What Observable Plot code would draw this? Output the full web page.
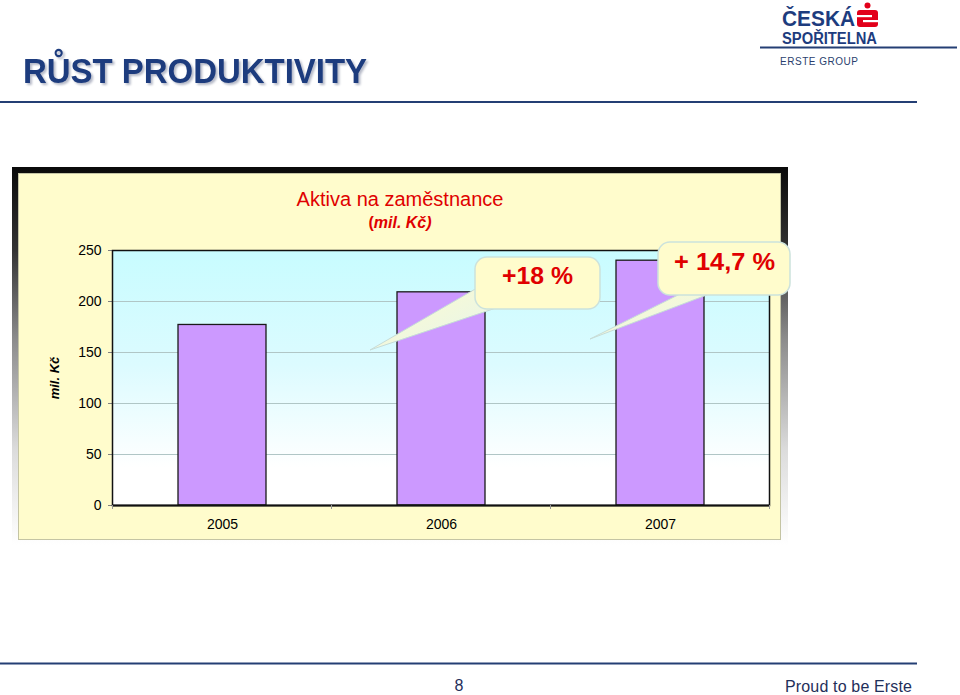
<!DOCTYPE html>
<html><head><meta charset="utf-8">
<script src="https://cdn.jsdelivr.net/npm/d3@7"></script>
<script src="https://cdn.jsdelivr.net/npm/@observablehq/plot@0.6"></script>
<style>
body{margin:0;background:#fff;}
#chart svg{display:block}
#chart g[aria-label="y-axis tick"] path{stroke:#808080}
#chart g[aria-label="y-axis label"] text{font-weight:bold;font-style:italic;font-size:13px}
</style></head><body><div id="chart"></div>
<script>
const years = ["2005", "2006", "2007"];
const values = [177, 209, 240];
const yTicks = [0, 50, 100, 150, 200, 250];
const growthLabels = ["+18 %", "+ 14,7 %"];
const pageTitle = "RŮST PRODUKTIVITY";
const chartTitle = "Aktiva na zaměstnance";
const yLabel = "mil. Kč";
const footerPage = "8";
const footerText = "Proud to be Erste";

const data = years.map((year, i) => ({year, value: values[i]}));
const FONT = "'Liberation Sans', Arial, Helvetica, sans-serif";
const NAVY = "#1d3c7e";
const RED = "#e00000";

const plot = Plot.plot({
  width: 960, height: 695,
  marginLeft: 112, marginRight: 191, marginTop: 250, marginBottom: 190,
  style: {background: "transparent", fontFamily: FONT, fontSize: "14px", color: "#000", overflow: "visible"},
  x: {domain: years, paddingInner: 0.6, paddingOuter: 0.3, label: null, tickSize: 0, tickPadding: 14},
  y: {domain: [0, 250], ticks: yTicks, tickSize: 4, tickPadding: 7, label: yLabel, labelAnchor: "center", labelOffset: 63, labelArrow: "none"},
  marks: [
    Plot.frame({fill: "url(#plotBg)"}),
    Plot.ruleY(yTicks.filter(v => v > 0 && v < 250), {stroke: "#b0c6c6", strokeWidth: 1}),
    Plot.barY(data, {x: "year", y: "value", fill: "#cc99ff", stroke: "#1a1a1a", strokeWidth: 1.3}),
    Plot.frame({stroke: "#111", strokeWidth: 1.5}),
    Plot.ruleY([0], {stroke: "#111", strokeWidth: 2})
  ]
});

const svg = d3.select(plot);
const back = svg.insert("g", ":first-child");
const defs = svg.insert("defs", ":first-child");
const g1 = defs.append("linearGradient").attr("id", "plotBg").attr("x1", 0).attr("y1", 0).attr("x2", 0).attr("y2", 1);
g1.append("stop").attr("offset", "0").attr("stop-color", "#c8fcff");
g1.append("stop").attr("offset", "0.45").attr("stop-color", "#dcfbff");
g1.append("stop").attr("offset", "0.85").attr("stop-color", "#ffffff");
g1.append("stop").attr("offset", "1").attr("stop-color", "#ffffff");
const g2 = defs.append("linearGradient").attr("id", "shadowGrad").attr("x1", 0).attr("y1", 0).attr("x2", 0).attr("y2", 1);
[[0, "#0a0a0a"], [0.22, "#333"], [0.45, "#8a8a8a"], [0.75, "#dcdcdc"], [1, "#fff"]].forEach(([o, c]) => g2.append("stop").attr("offset", o).attr("stop-color", c));
const g3 = defs.append("linearGradient").attr("id", "tailGrad").attr("x1", 0).attr("y1", 0).attr("x2", 1).attr("y2", 1);
g3.append("stop").attr("offset", "0").attr("stop-color", "#fffccc");
g3.append("stop").attr("offset", "1").attr("stop-color", "#e4f4ee");

back.append("rect").attr("x", 12).attr("y", 167).attr("width", 776).attr("height", 378).attr("fill", "url(#shadowGrad)");
back.append("rect").attr("x", 18.5).attr("y", 173.5).attr("width", 762).attr("height", 366).attr("fill", "#fffccc").attr("stroke", "#c4c4a4");

const xs = plot.scale("x");
const gap = (xs.step - xs.bandwidth) / 2;
const bounds = years.map(d => xs.apply(d) - gap);
bounds.push(xs.apply(years[years.length - 1]) + xs.bandwidth + gap);
const ys = plot.scale("y");
const over = svg.append("g").attr("text-anchor", "start");
bounds.forEach(b => over.append("line").attr("x1", b).attr("x2", b).attr("y1", ys.apply(0)).attr("y2", ys.apply(0) + 4).attr("stroke", "#999"));

over.append("text").attr("text-anchor", "start").attr("x", 23).attr("y", 83).attr("font-family", FONT).attr("font-weight", "bold").attr("font-size", 35)
  .attr("textLength", 344).attr("lengthAdjust", "spacingAndGlyphs").attr("fill", NAVY)
  .style("filter", "drop-shadow(2px 2px 1px rgba(90,100,130,0.45))").text(pageTitle);
over.append("line").attr("x1", 0).attr("x2", 917).attr("y1", 102).attr("y2", 102).attr("stroke", "#243f74").attr("stroke-width", 2);

over.append("text").attr("text-anchor", "start").attr("x", 782).attr("y", 26).attr("font-family", FONT).attr("font-weight", "bold").attr("font-size", 22)
  .attr("textLength", 73).attr("lengthAdjust", "spacingAndGlyphs").attr("fill", NAVY).text("ČESKÁ");
over.append("text").attr("text-anchor", "start").attr("x", 782).attr("y", 44).attr("font-family", FONT).attr("font-weight", "bold").attr("font-size", 16)
  .attr("textLength", 95).attr("lengthAdjust", "spacingAndGlyphs").attr("fill", NAVY).text("SPOŘITELNA");
over.append("circle").attr("cx", 867.5).attr("cy", 5.5).attr("r", 3).attr("fill", "#e2001a");
over.append("rect").attr("x", 857).attr("y", 10).attr("width", 21).attr("height", 17).attr("rx", 3).attr("fill", "#e2001a");
over.append("rect").attr("x", 857).attr("y", 15).attr("width", 15).attr("height", 2.2).attr("fill", "#fff");
over.append("rect").attr("x", 863).attr("y", 20).attr("width", 15).attr("height", 2.2).attr("fill", "#fff");
over.append("line").attr("x1", 760).attr("x2", 957).attr("y1", 47.5).attr("y2", 47.5).attr("stroke", "#243f74").attr("stroke-width", 2);
over.append("text").attr("text-anchor", "start").attr("x", 780).attr("y", 65).attr("font-family", FONT).attr("font-size", 10)
  .attr("textLength", 78).attr("fill", "#2a3f6e").text("ERSTE GROUP");

over.append("line").attr("x1", 0).attr("x2", 917).attr("y1", 663.5).attr("y2", 663.5).attr("stroke", "#243f74").attr("stroke-width", 2);
over.append("text").attr("x", 459).attr("y", 691).attr("text-anchor", "middle").attr("font-family", FONT).attr("font-size", 16).attr("fill", "#1f2f5a").text(footerPage);
over.append("text").attr("text-anchor", "start").attr("x", 785).attr("y", 692).attr("font-family", FONT).attr("font-size", 16)
  .attr("textLength", 127).attr("fill", "#1f2f5a").text(footerText);

over.append("text").attr("x", 400).attr("y", 206).attr("text-anchor", "middle").attr("font-family", FONT).attr("font-size", 20).attr("fill", RED).text(chartTitle);
const sub = over.append("text").attr("x", 400).attr("y", 228).attr("text-anchor", "middle").attr("font-family", FONT).attr("font-size", 16).attr("font-weight", "bold").attr("fill", RED);
sub.append("tspan").text("(");
sub.append("tspan").attr("font-style", "italic").text("mil. Kč)");

function callout(rx, ry, rw, rh, tail, label, tx, ty, tlen) {
  over.append("polygon").attr("points", tail.map(p => p.join(",")).join(" "))
    .attr("fill", "url(#tailGrad)").attr("stroke", "#c6dcd8").attr("stroke-width", 1);
  over.append("rect").attr("x", rx).attr("y", ry).attr("width", rw).attr("height", rh).attr("rx", 12)
    .attr("fill", "#fffccc").attr("stroke", "#cce2dc").attr("stroke-width", 1.5);
  over.append("text").attr("x", tx).attr("y", ty).attr("text-anchor", "middle").attr("font-family", FONT)
    .attr("font-weight", "bold").attr("font-size", 23).attr("fill", RED)
    .attr("textLength", tlen).attr("lengthAdjust", "spacingAndGlyphs").text(label);
}
callout(475, 257, 125, 52, [[477, 288], [496, 308], [370, 350]], growthLabels[0], 537.5, 284, 71);
callout(658, 242, 132, 53, [[682, 293], [712, 293], [590, 339]], growthLabels[1], 724.5, 270, 101);

document.getElementById("chart").appendChild(plot);
</script></body></html>
